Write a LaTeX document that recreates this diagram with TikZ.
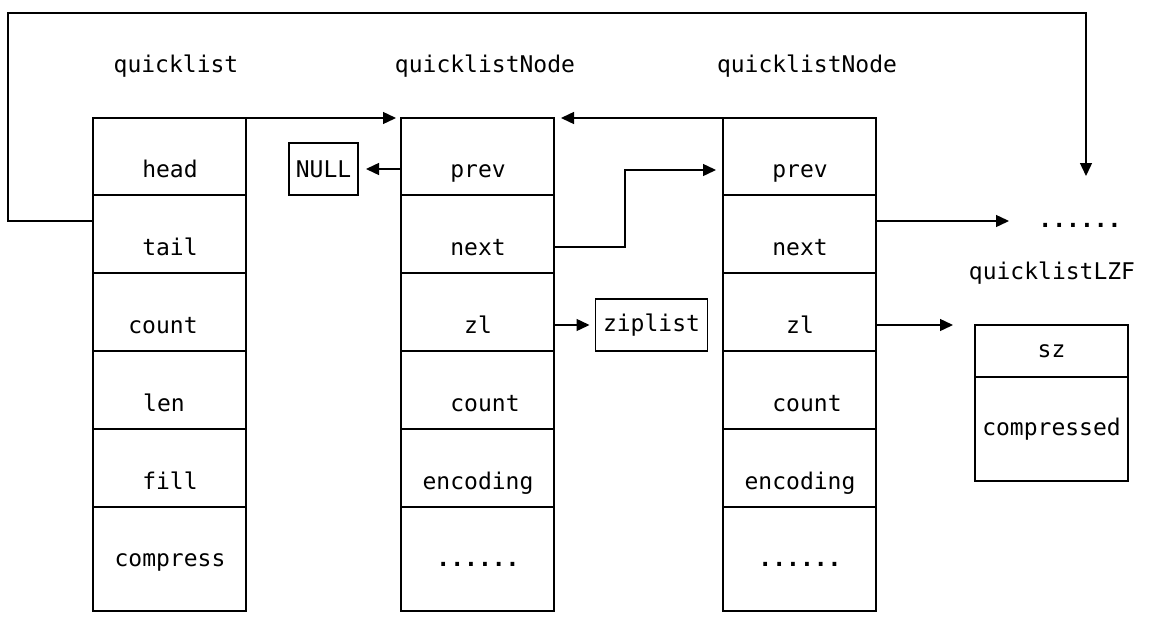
\documentclass[tikz,border=0pt]{standalone}
\usepackage{fontspec}
\setmonofont{DejaVu Sans Mono}
\usetikzlibrary{arrows.meta}
\newcommand{\sixdots}{\textbf{......}}

\begin{document}
\begin{tikzpicture}[x=1pt,y=-1pt,>={Triangle[length=13pt,width=12pt]},
 font=\ttfamily\fontsize{23}{28}\selectfont,
 cell/.style={draw,line width=1.4pt,inner sep=0pt,outer sep=0pt,minimum width=153pt,anchor=north west},
 box/.style={draw,line width=1.4pt,inner sep=0pt,outer sep=0pt},
 txt/.style={inner sep=0pt,anchor=base},
 conn/.style={->,line width=1.4pt}]
\useasboundingbox (0,0) rectangle (1164,626);
% quicklist and the two quicklistNode structs
\foreach \col/\x in {q/93,a/401,b/723}{
 \foreach \i/\top/\h in {1/118/77,2/195/78,3/273/78,4/351/78,5/429/78,6/507/104}
  \node[cell,minimum height=\h pt] (\col\i) at (\x,\top) {};
}
\foreach \i/\y/\ql/\qx/\nl/\nx in {
 1/177/head/170/prev/478,
 2/255/tail/170/next/478,
 3/333/count/163/zl/478,
 4/411/len/164/count/485,
 5/489/fill/170/encoding/478,
 6/566/compress/170/\sixdots/478}{
 \node[txt] (q\i t) at (\qx,\y) {\ql};
 \node[txt] (a\i t) at (\nx,\y) {\nl};
 \node[txt] (b\i t) at (\nx+322,\y) {\nl};
}
\node[txt] (qtitle) at (176,72) {quicklist};
\node[txt] (atitle) at (485,72) {quicklistNode};
\node[txt] (btitle) at (807,72) {quicklistNode};
% small boxes
\node[box,minimum width=69pt,minimum height=52pt] (null) at (323.5,169) {NULL};
\node[box,minimum width=112pt,minimum height=52pt] (zip) at (651.5,325) {ziplist};
% quicklistLZF
\node[txt] (lzftitle) at (1052,279) {quicklistLZF};
\node[cell,minimum height=52pt] (lzfsz) at (975,325) {sz};
\node[cell,minimum height=104pt] (lzfcomp) at (975,377) {compressed};
\node[txt] (dots) at (1080,227) {\sixdots};
\coordinate (nextend) at (1009,221);
\coordinate (tailend) at (1086,176);
% pointers
\draw[conn,shorten >=5pt] (q1.north east) -- (a1.north west);
\draw[conn,shorten >=7pt] (b1.north west) -- (a1.north east);
\draw[conn,shorten >=8pt] (null.east -| a1.west) -- (null.east);
\draw[conn,shorten >=7pt] ([yshift=-13pt]a2.east) -- ++(71,0) |- ([yshift=-13.5pt]b1.west);
\draw[conn,shorten >=6pt] ([yshift=-13pt]a3.east) -- (zip.west);
\draw[conn,shorten >=22pt] ([yshift=-13pt]b3.east) -- (lzfsz.north west);
\draw[conn] ([yshift=13pt]b2.east) -- (nextend);
\draw[conn] ([yshift=13pt]q2.west) -| (8,13) -| (tailend);
\end{tikzpicture}
\end{document}
